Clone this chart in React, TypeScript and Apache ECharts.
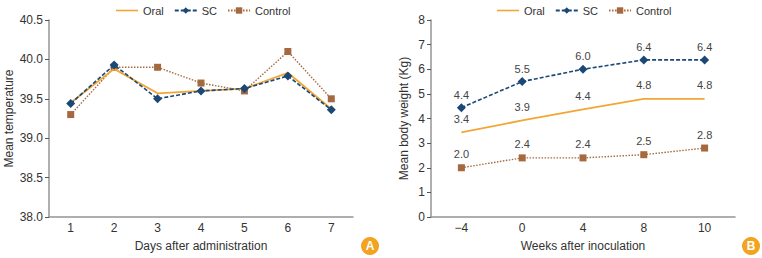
import React, { useEffect, useRef } from "react";
import * as echarts from "echarts";

const days = ["1", "2", "3", "4", "5", "6", "7"];
const oralTemp = [39.45, 39.88, 39.57, 39.6, 39.63, 39.83, 39.37];
const scTemp = [39.44, 39.93, 39.5, 39.6, 39.63, 39.79, 39.36];
const controlTemp = [39.3, 39.9, 39.9, 39.7, 39.6, 40.1, 39.5];

const weeks = ["\u22124", "0", "4", "8", "10"];
const oralWeight = [3.44, 3.92, 4.37, 4.8, 4.8];
const scWeight = [4.44, 5.5, 6.0, 6.38, 6.38];
const controlWeight = [2.0, 2.4, 2.4, 2.53, 2.8];

const seriesNames = ["Oral", "SC", "Control"];
const ORAL = "#F2A735";
const SC = "#1B4876";
const CTRL = "#A5683F";
const BADGE = "#F2A31F";
const AXIS = "#949494";
const FONT = "Liberation Sans, Arial, sans-serif";

export default function App() {
  const ref = useRef<HTMLDivElement>(null);
  useEffect(() => {
    if (!ref.current) return;
    const chart = echarts.init(ref.current, undefined, { renderer: "svg" });
    const legendBase = {
      top: 0,
      itemWidth: 22,
      itemHeight: 8,
      itemGap: 10,
      textStyle: { fontFamily: FONT, fontSize: 11, color: "#333" },
      data: [
        { name: "Oral", icon: "path://M0,0H22V1.6H0Z" },
        { name: "SC" },
        { name: "Control" },
      ],
    };
    const xAxisBase = (data: string[], name: string, gridIndex: number) => ({
      type: "category",
      gridIndex,
      data,
      boundaryGap: true,
      name,
      nameLocation: "middle",
      nameGap: 23,
      nameTextStyle: { fontFamily: FONT, fontSize: 12, color: "#333" },
      axisLine: { lineStyle: { color: AXIS, width: 1.5 } },
      axisTick: { inside: true, length: 4, lineStyle: { color: "#555", width: 1 } },
      axisLabel: { fontFamily: FONT, fontSize: 12, color: "#333", margin: 5 },
      splitLine: { show: false },
    });
    const yAxisBase = (
      gridIndex: number,
      min: number,
      max: number,
      interval: number,
      name: string,
      nameGap: number,
      fmt: (v: number) => string
    ) => ({
      type: "value",
      gridIndex,
      min,
      max,
      interval,
      name,
      nameLocation: "middle",
      nameGap,
      nameTextStyle: { fontFamily: FONT, fontSize: 12, color: "#333" },
      axisLine: { show: true, lineStyle: { color: AXIS, width: 1.5 } },
      axisTick: { show: true, inside: false, length: 4, lineStyle: { color: "#555", width: 1 } },
      axisLabel: { fontFamily: FONT, fontSize: 12, color: "#333", margin: 6, formatter: fmt },
      splitLine: { show: false },
    });
    const lbl = (distance: number) => ({
      show: true,
      position: "top",
      distance,
      fontFamily: FONT,
      fontSize: 11,
      color: "#444",
      formatter: (p: any) => Number(p.value).toFixed(1),
    });

    chart.setOption({
      animation: false,
      backgroundColor: "#fff",
      legend: [
        { ...legendBase, left: 111 },
        { ...legendBase, left: 492 },
      ],
      grid: [
        { left: 49, top: 20, width: 304, height: 197 },
        { left: 431, top: 20, width: 304, height: 197 },
      ],
      xAxis: [
        xAxisBase(days, "Days after administration", 0),
        xAxisBase(weeks, "Weeks after inoculation", 1),
      ],
      yAxis: [
        yAxisBase(0, 38, 40.5, 0.5, "Mean temperature", 34, (v: number) => v.toFixed(1)),
        yAxisBase(1, 0, 8, 1, "Mean body weight (Kg)", 21, (v: number) => String(v)),
      ],
      series: [
        {
          name: seriesNames[0],
          type: "line",
          xAxisIndex: 0,
          yAxisIndex: 0,
          data: oralTemp,
          symbol: "none",
          lineStyle: { color: ORAL, width: 1.8, type: "solid" },
          itemStyle: { color: ORAL },
          z: 2,
        },
        {
          name: seriesNames[1],
          type: "line",
          xAxisIndex: 0,
          yAxisIndex: 0,
          data: scTemp,
          symbol: "diamond",
          symbolSize: 9,
          lineStyle: { color: SC, width: 1.6, type: [4, 2] },
          itemStyle: { color: SC },
          z: 3,
        },
        {
          name: seriesNames[2],
          type: "line",
          xAxisIndex: 0,
          yAxisIndex: 0,
          data: controlTemp,
          symbol: "rect",
          symbolSize: 7,
          lineStyle: { color: CTRL, width: 1.4, type: [1.5, 1.5] },
          itemStyle: { color: CTRL },
          z: 1,
        },
        {
          name: seriesNames[0],
          type: "line",
          xAxisIndex: 1,
          yAxisIndex: 1,
          data: oralWeight,
          symbol: "circle",
          symbolSize: 0,
          showSymbol: true,
          lineStyle: { color: ORAL, width: 1.8, type: "solid" },
          itemStyle: { color: ORAL },
          label: lbl(8),
        },
        {
          name: seriesNames[1],
          type: "line",
          xAxisIndex: 1,
          yAxisIndex: 1,
          data: scWeight,
          symbol: "diamond",
          symbolSize: 9,
          lineStyle: { color: SC, width: 1.6, type: [4, 2] },
          itemStyle: { color: SC },
          label: lbl(3),
        },
        {
          name: seriesNames[2],
          type: "line",
          xAxisIndex: 1,
          yAxisIndex: 1,
          data: controlWeight,
          symbol: "rect",
          symbolSize: 7,
          lineStyle: { color: CTRL, width: 1.4, type: [1.5, 1.5] },
          itemStyle: { color: CTRL },
          label: lbl(4.5),
        },
      ],
      graphic: [
        { type: "circle", shape: { cx: 370, cy: 246, r: 9 }, style: { fill: BADGE } },
        {
          type: "text",
          x: 370,
          y: 246,
          style: { text: "A", fill: "#fff", font: "bold 12px Liberation Sans, Arial, sans-serif", align: "center", verticalAlign: "middle" },
        },
        { type: "circle", shape: { cx: 751, cy: 246, r: 9 }, style: { fill: BADGE } },
        {
          type: "text",
          x: 751,
          y: 246,
          style: { text: "B", fill: "#fff", font: "bold 12px Liberation Sans, Arial, sans-serif", align: "center", verticalAlign: "middle" },
        },
      ],
    });
    return () => chart.dispose();
  }, []);
  return (
    <div
      ref={ref}
      style={{ position: "fixed", left: 0, top: 0, width: 762, height: 258, background: "#fff" }}
    />
  );
}
